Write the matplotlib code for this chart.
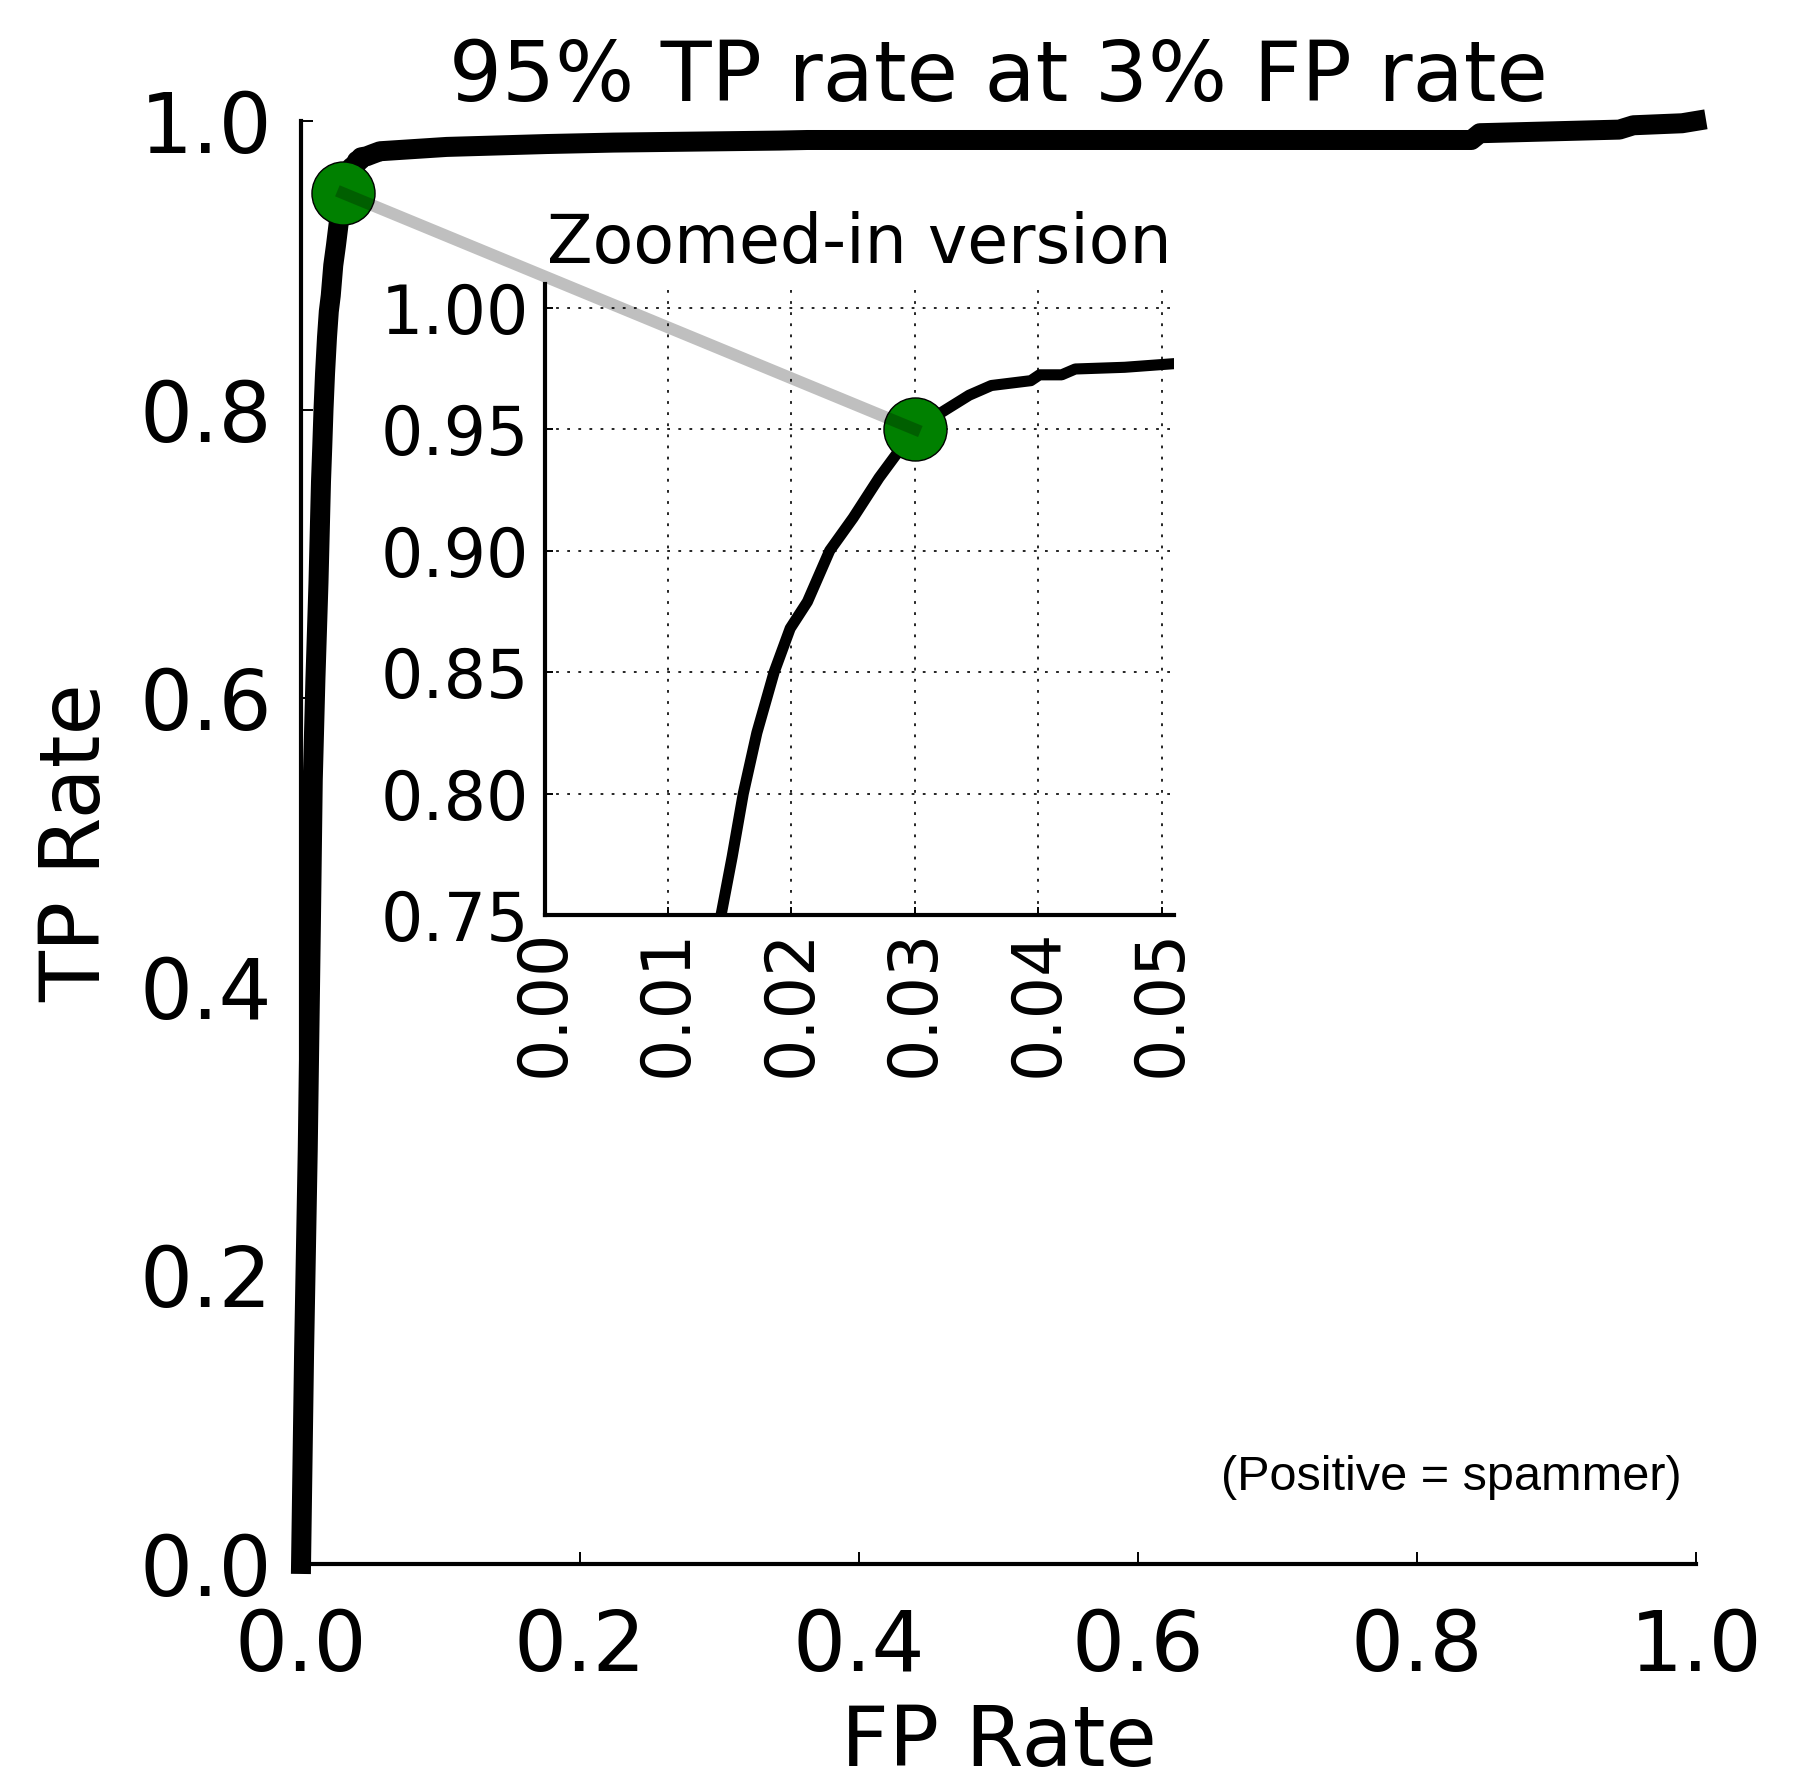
import matplotlib
matplotlib.use('Agg')
import matplotlib.pyplot as plt
from matplotlib.lines import Line2D

# ROC curve (FP rate, TP rate)
fpr = [0.0, 0.0022, 0.0048, 0.0070, 0.0084, 0.0103, 0.0125, 0.0143,
       0.0152, 0.0161, 0.0172, 0.0186, 0.0199, 0.0213, 0.0231, 0.0250,
       0.0271, 0.0300, 0.0325, 0.0344, 0.0362, 0.0394, 0.0401, 0.0419,
       0.0430, 0.0470, 0.0510, 0.0566, 0.1044, 0.1760, 0.2240, 0.3430,
       0.3630, 0.8390, 0.8450, 0.9450, 0.9550, 0.9900, 1.0]
tpr = [0.0, 0.148, 0.287, 0.439, 0.543, 0.613, 0.680, 0.750,
       0.774, 0.800, 0.825, 0.850, 0.868, 0.879, 0.900, 0.9135,
       0.930, 0.950, 0.958, 0.964, 0.968, 0.970, 0.9724, 0.9724,
       0.9748, 0.9755, 0.977, 0.979, 0.982, 0.984, 0.985, 0.9864,
       0.9868, 0.9868, 0.9915, 0.994, 0.997, 0.9984, 1.0]

# operating point
op_fpr = 0.03
op_tpr = 0.95

main_ticks = [0.0, 0.2, 0.4, 0.6, 0.8, 1.0]
inset_xticks = [0.00, 0.01, 0.02, 0.03, 0.04, 0.05]
inset_yticks = [0.75, 0.80, 0.85, 0.90, 0.95, 1.00]

plt.rcParams['lines.scale_dashes'] = False
plt.rcParams['font.family'] = 'DejaVu Sans'

fig = plt.figure(figsize=(9.035, 8.88), dpi=200)

# main axes
ax = fig.add_axes([0.1666, 0.1194, 0.7720, 0.8125])
ax.plot(fpr, tpr, color='k', lw=7.2, clip_on=False, zorder=3)
ax.plot([op_fpr], [op_tpr], 'o', ms=22.7, mfc='green', mec='k', mew=0.5,
        clip_on=False, zorder=4)
ax.set_xlim(0, 1)
ax.set_ylim(0, 1)
for s in ['top', 'right']:
    ax.spines[s].set_visible(False)
for s in ['left', 'bottom']:
    ax.spines[s].set_linewidth(1.5)
ax.tick_params(direction='in', length=4.2, width=0.7, labelsize=30,
               top=False, right=False)
ax.tick_params(axis='x', pad=15.5)
ax.tick_params(axis='y', pad=10.4)
ax.set_xticks(main_ticks)
ax.set_xticklabels([f'{t:.1f}' for t in main_ticks])
ax.set_yticks(main_ticks)
ax.set_yticklabels([f'{t:.1f}' for t in main_ticks])
ax.set_xlabel('FP Rate', fontsize=30)
ax.set_ylabel('TP Rate', fontsize=30)
ax.xaxis.set_label_coords(0.5, -0.096)
ax.yaxis.set_label_coords(-0.132, 0.5)
ax.set_title('95% TP rate at 3% FP rate', fontsize=30, pad=7.2)
ax.text(0.99, 0.051, '(Positive = spammer)', transform=ax.transAxes,
        ha='right', va='baseline', fontsize=17.5, family='Liberation Sans')

# zoomed-in inset
axins = fig.add_axes([0.30138, 0.48480, 0.34831, 0.35557])
axins.set_axisbelow(False)
axins.plot(fpr, tpr, color='k', lw=4)
axins.plot([op_fpr], [op_tpr], 'o', ms=22.7, mfc='green', mec='k', mew=0.5,
           clip_on=False, zorder=4)
axins.set_xlim(0, 0.051)
axins.set_ylim(0.75, 1.01)
for s in ['top', 'right']:
    axins.spines[s].set_visible(False)
for s in ['left', 'bottom']:
    axins.spines[s].set_linewidth(1.5)
axins.tick_params(direction='in', length=3, width=0.7, labelsize=24,
                  top=False, right=False, pad=5.5)
axins.tick_params(axis='x', pad=4.8)
axins.set_xticks(inset_xticks)
axins.set_xticklabels([f'{t:.2f}' for t in inset_xticks], rotation=90)
axins.set_yticks(inset_yticks)
axins.set_yticklabels([f'{t:.2f}' for t in inset_yticks])
axins.grid(True, color='k', linestyle=(0, (1, 3)), lw=0.6)
axins.set_title('Zoomed-in version', fontsize=24, pad=7.5)

# line joining the two operating-point markers
p1 = ax.transData.transform((op_fpr, op_tpr))
p2 = axins.transData.transform((op_fpr, op_tpr))
(x1, y1), (x2, y2) = fig.transFigure.inverted().transform([p1, p2])
fig.add_artist(Line2D([x1, x2], [y1, y2], transform=fig.transFigure,
                      color='k', alpha=0.25, lw=4.3, zorder=10))

fig.savefig('out.png', dpi=200)
